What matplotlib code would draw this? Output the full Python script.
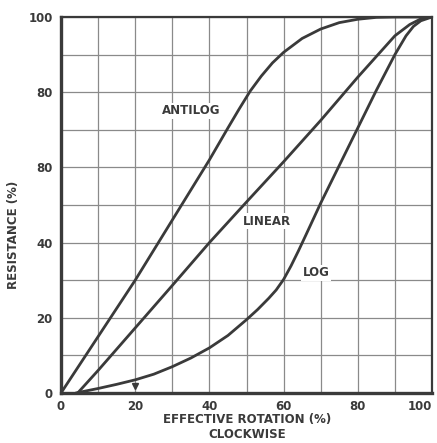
import matplotlib
matplotlib.use("Agg")
import matplotlib.pyplot as plt
import numpy as np

# Data
antilog_x = [0, 5, 10, 15, 20, 25, 30, 35, 40, 45, 48, 51, 54, 57, 60, 65, 70, 75, 80, 85, 90, 100]
antilog_y = [0, 7.5, 15, 22.5, 30, 38, 46, 54, 62, 70.5, 75.5, 80.3, 84.3, 87.8, 90.6, 94.3, 96.8, 98.5, 99.4, 99.9, 100, 100]
linear_x = [4.5, 10, 20, 30, 40, 50, 60, 70, 80, 90, 94, 97, 100]
linear_y = [0, 6, 17.3, 28.6, 40, 50.8, 61.5, 72.5, 84, 95, 98, 99.5, 100]
log_x = [4, 10, 15, 20, 25, 30, 35, 40, 45, 50, 53, 56, 58, 60, 62, 64, 66, 70, 75, 80, 85, 90, 93, 95, 97, 100]
log_y = [0, 1.2, 2.3, 3.5, 5, 7, 9.3, 12, 15.3, 19.5, 22.2, 25.2, 27.4, 30.2, 33.8, 37.8, 42, 50.5, 60.5, 70.5, 80.5, 90, 95, 97.5, 99, 100]

x_ticks = [0, 20, 40, 60, 80, 100]
x_ticklabels = ["0", "20", "40", "60", "80", "100"]
y_ticks = [0, 20, 40, 60, 80, 100]
y_ticklabels = ["0", "20", "40", "80", "80", "100"]

curve_labels = ["ANTILOG", "LINEAR", "LOG"]
label_pos = [(35, 75), (55.5, 45.7), (68.7, 32)]

ink = "#3a3a3a"
plt.rcParams["font.family"] = ["DejaVu Sans"]

W, H = 437, 443
fig = plt.figure(figsize=(W/100, H/100), dpi=100)
ax = fig.add_axes([61/W, 50/H, (432-61)/W, (393-17)/H])

ax.set_xlim(0, 100)
ax.set_ylim(0, 100)
ax.set_xticks(x_ticks)
ax.set_yticks(y_ticks)
ax.set_xticks(np.arange(0, 101, 10), minor=True)
ax.set_yticks(np.arange(0, 101, 10), minor=True)
ax.grid(True, which="both", color="#8a8a8a", linewidth=0.9)
ax.set_axisbelow(True)
ax.set_xticklabels(x_ticklabels, fontsize=8.5, fontweight="bold", color=ink)
ax.set_yticklabels(y_ticklabels, fontsize=8.5, fontweight="bold", color=ink)
ax.get_xticklabels()[-1].set_horizontalalignment("right")
ax.tick_params(which="both", length=0)
ax.tick_params(axis="x", pad=5)
ax.tick_params(axis="y", pad=6)

for s in ["left", "bottom"]:
    ax.spines[s].set_linewidth(2.4)
    ax.spines[s].set_color(ink)
for s in ["top", "right"]:
    ax.spines[s].set_linewidth(1.6)
    ax.spines[s].set_color(ink)

lw = 2.0
ax.plot(antilog_x, antilog_y, color=ink, lw=lw, solid_capstyle="round", solid_joinstyle="round")
ax.plot(linear_x, linear_y, color=ink, lw=lw, solid_capstyle="round", solid_joinstyle="round")
ax.plot(log_x, log_y, color=ink, lw=lw, solid_capstyle="round", solid_joinstyle="round")
ax.plot([20], [1.8], marker="v", color=ink, markersize=4)

for t, (px, py) in zip(curve_labels, label_pos):
    ax.text(px, py, t, fontsize=8.5, fontweight="bold", color=ink, ha="center", va="center",
            bbox=dict(facecolor="white", edgecolor="none", pad=1.0))

fig.text(14/W, 1 - 235/H, "RESISTANCE (%)", rotation=90, fontsize=8.5, fontweight="bold",
         color=ink, ha="center", va="center")
fig.text(247/W, 1 - 420/H, "EFFECTIVE ROTATION (%)", fontsize=8.5, fontweight="bold",
         color=ink, ha="center", va="center")
fig.text(247/W, 1 - 435/H, "CLOCKWISE", fontsize=8.5, fontweight="bold",
         color=ink, ha="center", va="center")

fig.savefig("out.png", dpi=100, facecolor="white")
